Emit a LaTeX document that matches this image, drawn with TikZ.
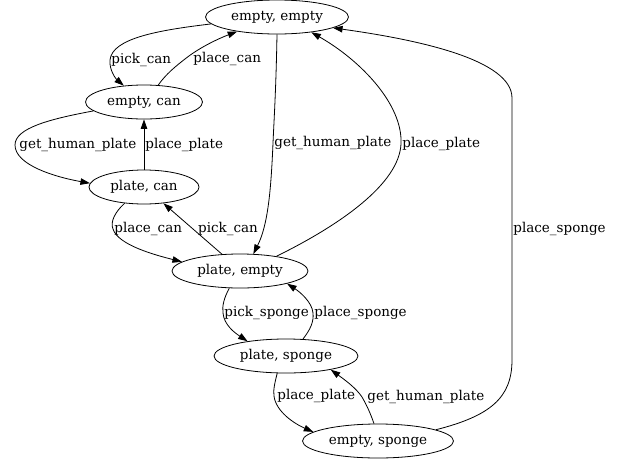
\documentclass[tikz,border=0pt]{standalone}
\usepackage{fontspec}
\setmainfont{DejaVu Serif}
\usetikzlibrary{%
  arrows.meta,
  shapes.geometric
}

\begin{document}
\begin{tikzpicture}[x=1pt, y=-1pt,
    every node/.style={font=\fontsize{13.5}{16}\selectfont},
    state/.style={ellipse, draw, line width=0.8pt, inner sep=0pt, minimum height=34pt},
    lbl/.style={inner sep=1pt, anchor=west},
    >={Triangle[length=9.5pt, width=6.5pt]}]
    \useasboundingbox (0,0) rectangle (618,461);

    % states
    \node[state, minimum width=143pt] (ee) at (277,17) {empty, empty};
    \node[state, minimum width=117pt] (ec) at (144,102) {empty, can};
    \node[state, minimum width=110pt] (pc) at (144,187) {plate, can};
    \node[state, minimum width=136pt] (pe) at (240,271) {plate, empty};
    \node[state, minimum width=144pt] (ps) at (286,356) {plate, sponge};
    \node[state, minimum width=151pt] (es) at (378,441) {empty, sponge};

    % transitions
    \draw[->, line width=0.8pt] (ee.186) .. controls (160,30) and (112,38) .. (110,60)
        node[lbl] {pick\_can} .. controls (109,70) and (116,79) .. (ec.141);
    \draw[->, line width=0.8pt] (ec.50) .. controls (166,74) and (176,66) .. (185,59)
        node[lbl, xshift=7pt] {place\_can} .. controls (200,47) and (220,38) .. (ee.200);
    \draw[->, line width=0.8pt] (ec.190) .. controls (50,119) and (15,128) .. (15,145)
        node[lbl, xshift=3pt] {get\_human\_plate} .. controls (15,165) and (55,177) .. (pc.176);
    \draw[->, line width=0.8pt] (pc) -- node[lbl] {place\_plate} (ec);
    \draw[->, line width=0.8pt] (pc.220) .. controls (115,212) and (110,222) .. (113,229)
        node[lbl] {place\_can} .. controls (118,245) and (155,255) .. (pe.171);
    \draw[->, line width=0.8pt] (pe.137) -- node[lbl, xshift=4pt] {pick\_can} (pc.320);
    \draw[->, line width=0.8pt] (ee.270) .. controls (276,90) and (274,120) .. (273,143)
        node[lbl] {get\_human\_plate} .. controls (271,190) and (268,225) .. (pe.52);
    \draw[->, line width=0.8pt] (pe.22) .. controls (340,225) and (399,184) .. (401,144)
        node[lbl] {place\_plate} .. controls (403,104) and (360,60) .. (ee.336);
    \draw[->, line width=0.8pt] (es.11) .. controls (490,416) and (512,398) .. (512,360)
        -- node[lbl] {place\_sponge} (512,98) .. controls (512,60) and (420,40) .. (ee.349);
    \draw[->, line width=0.8pt] (pe.238) .. controls (224,298) and (222,306) .. (223,313)
        node[lbl] {pick\_sponge} .. controls (224,325) and (235,333) .. (ps.159);
    \draw[->, line width=0.8pt] (ps.45) .. controls (310,330) and (314,322) .. (313,313)
        node[lbl] {place\_sponge} .. controls (312,302) and (300,292) .. (pe.345);
    \draw[->, line width=0.8pt] (ps.243) .. controls (275,382) and (273,390) .. (274,396)
        node[lbl, xshift=2pt] {place\_plate} .. controls (276,412) and (295,424) .. (es.172);
    \draw[->, line width=0.8pt] (es.103) .. controls (370,412) and (366,404) .. (362,397)
        node[lbl, xshift=4pt] {get\_human\_plate} .. controls (356,388) and (345,380) .. (ps.343);

\end{tikzpicture}
\end{document}
